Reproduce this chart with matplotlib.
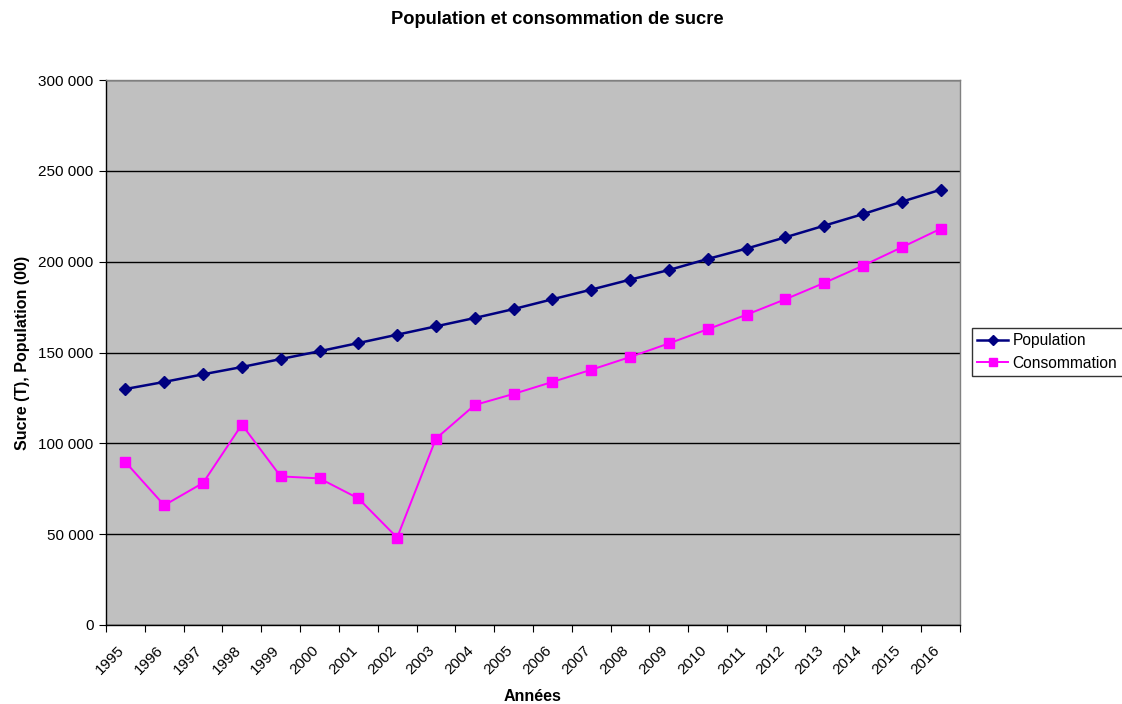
import matplotlib
matplotlib.use("Agg")
import matplotlib.pyplot as plt
from matplotlib.ticker import FuncFormatter, FixedLocator

plt.rcParams['font.family'] = ['Liberation Sans', 'DejaVu Sans']

years = [str(y) for y in range(1995, 2017)]
population = [129900, 133800, 138000, 142000, 146400, 150700, 155200, 159800,
              164400, 169000, 173900, 179300, 184600, 190100, 195400, 201500,
              207200, 213400, 219800, 226200, 233000, 239600]
consommation = [89700, 65900, 78200, 110300, 81800, 80700, 69700, 48100,
                102600, 121100, 127200, 133800, 140500, 147500, 155000, 162800,
                170800, 179300, 188300, 197800, 207900, 218100]

W, H = 1122, 704
fig = plt.figure(figsize=(W / 100, H / 100), dpi=100)
fig.patch.set_facecolor('white')
ax = fig.add_axes([106 / W, (H - 625) / H, (960 - 106) / W, (625 - 80) / H])
ax.set_facecolor('#C0C0C0')

x = [i + 0.5 for i in range(len(years))]
ax.plot(x, population, color='#000080', lw=1.8, marker='D', ms=6,
        mfc='#000080', mec='#000080', label='Population', zorder=3, clip_on=False)
ax.plot(x, consommation, color='#FF00FF', lw=1.4, marker='s', ms=7,
        mfc='#FF00FF', mec='#FF00FF', label='Consommation', zorder=3, clip_on=False)

ax.set_xlim(0, len(years))
ax.set_ylim(0, 300000)
ax.set_yticks(range(0, 300001, 50000))
ax.yaxis.set_major_formatter(FuncFormatter(lambda v, p: f"{int(v):,}".replace(",", " ")))
ax.grid(axis='y', color='black', lw=1)
ax.set_axisbelow(True)

ax.xaxis.set_major_locator(FixedLocator(list(range(len(years) + 1))))
ax.xaxis.set_major_formatter(FuncFormatter(lambda v, p: ""))
ax.xaxis.set_minor_locator(FixedLocator([v - 0.08 for v in x]))
ax.set_xticklabels(years, minor=True, rotation=45, ha='right', va='center',
                   rotation_mode='anchor')
ax.tick_params(axis='x', which='minor', length=0, pad=17, labelsize=11)
ax.tick_params(axis='x', which='major', length=5, direction='out', color='black')
ax.tick_params(axis='y', length=5, direction='out', labelsize=11, pad=4)

for s in ['left', 'bottom']:
    ax.spines[s].set_color('black')
    ax.spines[s].set_linewidth(1)
for s in ['top', 'right']:
    ax.spines[s].set_color('#808080')
    ax.spines[s].set_linewidth(1)

ax.set_ylabel('Sucre (T), Population (00)', fontsize=11.5, fontweight='bold', labelpad=6)
ax.set_xlabel('Années', fontsize=11.5, fontweight='bold', labelpad=8)
fig.text(557 / W, 1 - 20 / H, 'Population et consommation de sucre', ha='center', va='center',
         fontsize=13.2, fontweight='bold')

leg = fig.legend(loc='center left', bbox_to_anchor=(972 / W, 1 - 352 / H), frameon=True,
                 fancybox=False, edgecolor='black', fontsize=11.2, handlelength=1.95,
                 handletextpad=0.3, borderpad=0.35, labelspacing=0.5, borderaxespad=0,
                 markerscale=0.8)
leg.get_frame().set_linewidth(1)

fig.savefig('out.png', dpi=100)
